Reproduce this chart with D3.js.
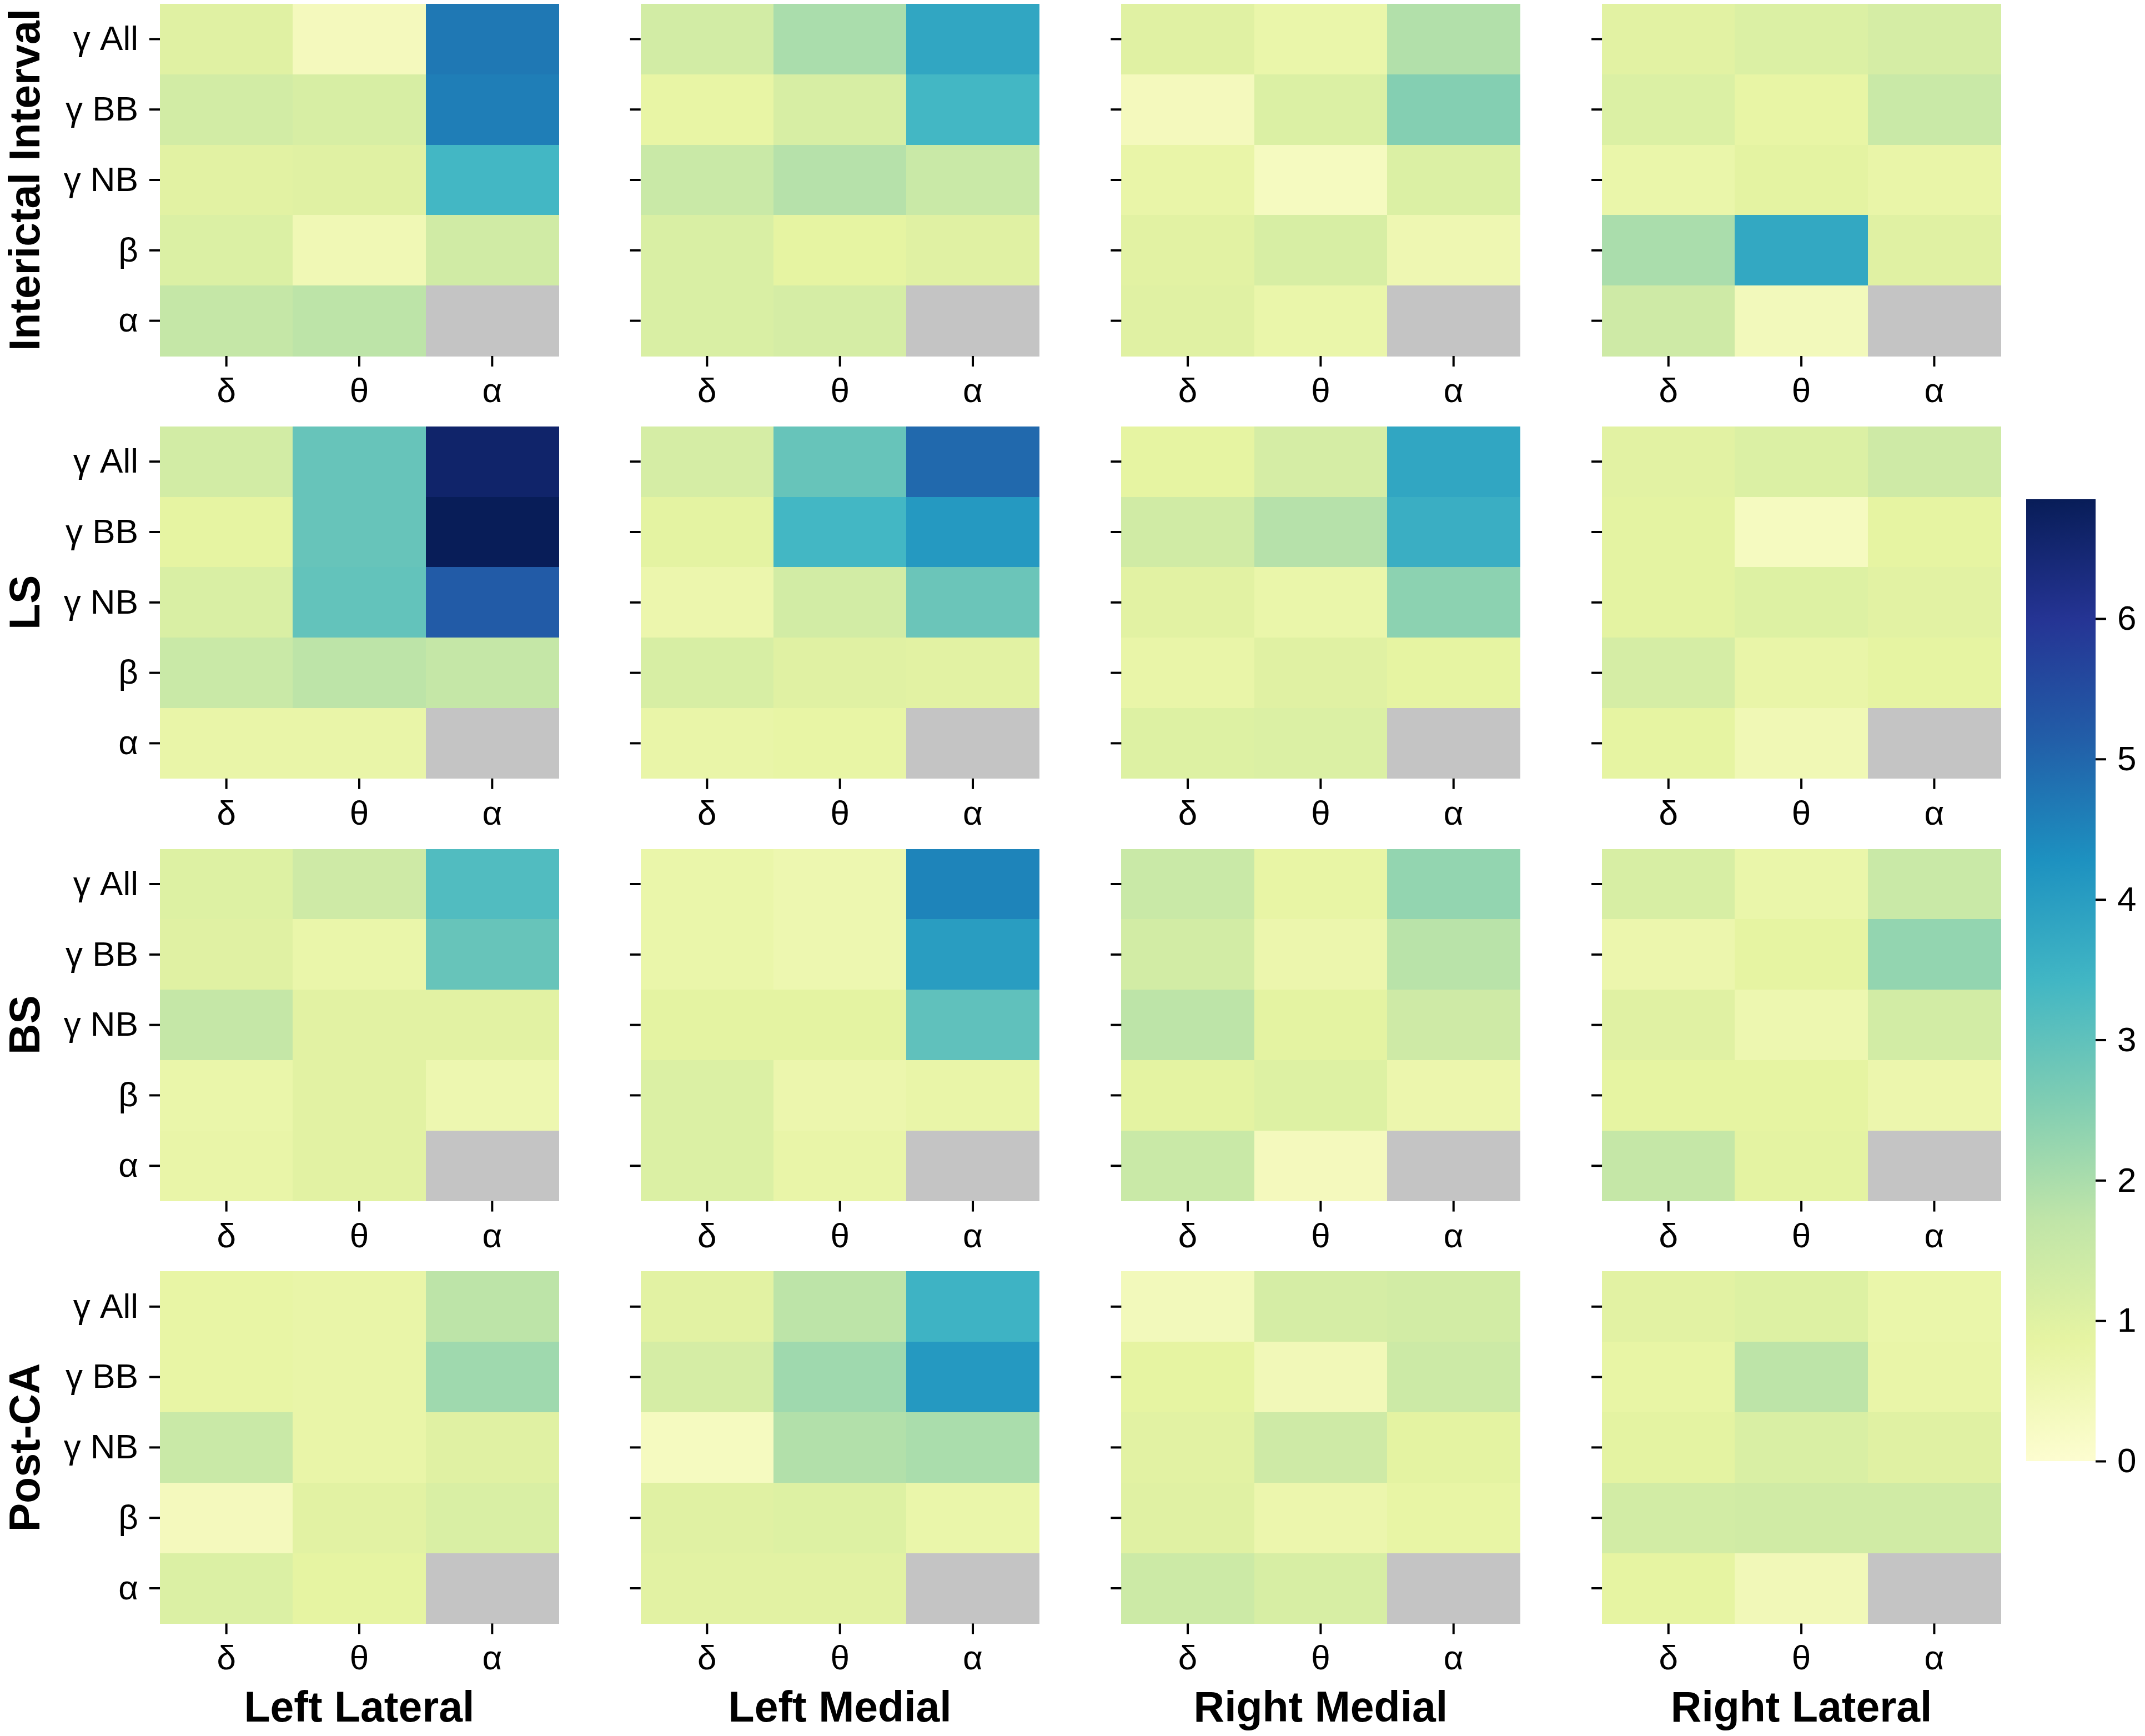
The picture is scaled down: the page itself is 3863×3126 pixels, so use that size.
<!DOCTYPE html>
<html>
<head>
<meta charset="utf-8">
<script src="https://cdn.jsdelivr.net/npm/d3@7"></script>
<style>
  html, body { margin: 0; padding: 0; background: #fff; }
  svg { display: block; }
  text { font-family: "Liberation Sans", Arial, Helvetica, sans-serif; fill: #000; }
</style>
</head>
<body>
<svg id="chart" width="3863" height="3126"></svg>
<script>
// ---------------- data ----------------
const intervals = ["Interictal Interval", "LS", "BS", "Post-CA"];
const regions = ["Left Lateral", "Left Medial", "Right Medial", "Right Lateral"];
const rowBands = ["γ All", "γ BB", "γ NB", "β", "α"];   // amplitude bands (rows)
const colBands = ["δ", "θ", "α"];                        // phase bands (columns)
const colorbarTicks = [0, 1, 2, 3, 4, 5, 6];
const vmin = 0, vmax = 6.85;

// values[region] = 5 rows x 3 cols, null = missing
const interictalValues = [
  [[1.0, 0.35, 4.7], [1.3, 1.2, 4.6], [0.95, 1.0, 3.4], [1.1, 0.5, 1.35], [1.6, 1.75, null]],
  [[1.3, 2.0, 3.8], [0.8, 1.2, 3.4], [1.5, 1.85, 1.5], [1.15, 0.85, 1.0], [1.15, 1.25, null]],
  [[1.0, 0.7, 1.9], [0.35, 1.1, 2.5], [0.75, 0.3, 1.1], [0.95, 1.2, 0.55], [1.0, 0.7, null]],
  [[0.95, 1.1, 1.25], [1.1, 0.8, 1.5], [0.7, 0.9, 0.75], [2.0, 3.75, 1.0], [1.4, 0.4, null]]
];
const lsValues = [
  [[1.3, 2.9, 6.6], [0.85, 2.9, 6.85], [1.15, 2.95, 5.2], [1.5, 1.75, 1.6], [0.75, 0.75, null]],
  [[1.25, 2.9, 4.95], [0.9, 3.4, 4.1], [0.65, 1.3, 2.85], [1.2, 1.0, 0.95], [0.75, 0.8, null]],
  [[0.85, 1.25, 3.8], [1.35, 1.85, 3.6], [0.95, 0.7, 2.4], [0.75, 1.0, 0.85], [1.05, 1.1, null]],
  [[0.95, 1.1, 1.4], [0.9, 0.3, 0.85], [0.9, 1.05, 0.95], [1.25, 0.75, 0.85], [0.85, 0.5, null]]
];
const bsValues = [
  [[1.05, 1.4, 3.2], [1.0, 0.7, 2.9], [1.6, 0.95, 0.95], [0.7, 0.95, 0.6], [0.75, 0.95, null]],
  [[0.7, 0.6, 4.5], [0.7, 0.6, 4.0], [0.9, 0.9, 3.0], [1.1, 0.65, 0.75], [1.1, 0.75, null]],
  [[1.5, 0.8, 2.3], [1.3, 0.65, 1.8], [1.75, 0.9, 1.4], [0.9, 1.05, 0.65], [1.5, 0.35, null]],
  [[1.2, 0.7, 1.5], [0.65, 0.85, 2.3], [1.0, 0.6, 1.3], [0.85, 0.85, 0.65], [1.6, 0.9, null]]
];
const postCAValues = [
  [[0.8, 0.75, 1.75], [0.8, 0.75, 2.15], [1.5, 0.75, 1.0], [0.35, 0.95, 1.15], [1.1, 0.85, null]],
  [[0.95, 1.75, 3.5], [1.25, 2.15, 4.1], [0.3, 1.9, 2.0], [1.0, 1.05, 0.7], [0.95, 0.95, null]],
  [[0.4, 1.25, 1.3], [0.85, 0.45, 1.45], [0.95, 1.4, 0.9], [1.0, 0.65, 0.8], [1.45, 1.2, null]],
  [[0.95, 1.05, 0.7], [0.8, 1.75, 0.75], [0.9, 1.15, 1.0], [1.3, 1.35, 1.35], [0.85, 0.45, null]]
];
const allValues = [interictalValues, lsValues, bsValues, postCAValues];

// YlGnBu-like colour stops (as they appear in the reference rendering)
const ylgnbu = ["#fdfdd0","#e6f4a2","#c0e5a8","#7fcdb3","#41b6c4","#1d91c0","#225ea8","#253494","#081d58"];
const missingColor = "#c4c4c4";

// ---------------- layout ----------------
const svg = d3.select("#chart");
const panelW = 718, panelH = 634;
const colX = d3.scaleLinear().domain([0, 3]).range([288, 288 + 3 * 865.7]);
const rowY = d3.scaleLinear().domain([0, 3]).range([7, 7 + 3 * 760.8]);
const tickFont = 62, titleFont = 77;

const color = d3.scaleLinear()
  .domain(ylgnbu.map((_, i) => vmin + (vmax - vmin) * i / (ylgnbu.length - 1)))
  .range(ylgnbu)
  .interpolate(d3.interpolateRgb)
  .clamp(true);

const x = d3.scaleBand().domain(colBands).range([0, panelW]).padding(0);
const y = d3.scaleBand().domain(rowBands).range([0, panelH]).padding(0);

function styleAxis(g) {
  g.select(".domain").remove();
  g.selectAll(".tick line").attr("stroke", "#000").attr("stroke-width", 4);
  g.selectAll(".tick text").attr("font-size", tickFont).attr("fill", "#000")
    .style("font-family", "'Liberation Sans', Arial, Helvetica, sans-serif");
}

intervals.forEach((interval, ri) => {
  regions.forEach((region, ci) => {
    const vals = allValues[ri][ci];
    const cells = [];
    rowBands.forEach((rb, r) => colBands.forEach((cb, c) => cells.push({ rb, cb, v: vals[r][c] })));
    const g = svg.append("g").attr("transform", `translate(${colX(ci)},${rowY(ri)})`);
    g.selectAll("rect").data(cells).join("rect")
      .attr("x", d => x(d.cb))
      .attr("y", d => y(d.rb))
      .attr("width", x.bandwidth() + 0.5)
      .attr("height", y.bandwidth() + 0.5)
      .attr("fill", d => d.v == null ? missingColor : color(d.v))
      .attr("shape-rendering", "crispEdges");

    const xa = g.append("g").attr("transform", `translate(0,${panelH})`)
      .call(d3.axisBottom(x).tickSize(19).tickPadding(20));
    styleAxis(xa);

    const ya = g.append("g")
      .call(d3.axisLeft(y).tickSize(19).tickPadding(20)
        .tickFormat(ci === 0 ? (d => d) : () => ""));
    styleAxis(ya);
  });

  // row (interval) title
  const cy = rowY(ri) + panelH / 2;
  svg.append("text")
    .attr("transform", `translate(71,${cy}) rotate(-90)`)
    .attr("text-anchor", "middle")
    .attr("font-size", titleFont)
    .attr("font-weight", "bold")
    .text(interval);
});

// column (region) titles
regions.forEach((region, ci) => {
  svg.append("text")
    .attr("x", colX(ci) + panelW / 2)
    .attr("y", 3100)
    .attr("text-anchor", "middle")
    .attr("font-size", titleFont)
    .attr("font-weight", "bold")
    .text(region);
});

// ---------------- colorbar ----------------
const cbX = 3649, cbW = 125, cbTop = 899, cbBottom = 2631;
const cbScale = d3.scaleLinear().domain([vmin, vmax]).range([cbBottom, cbTop]);
const defs = svg.append("defs");
const grad = defs.append("linearGradient").attr("id", "cbgrad")
  .attr("x1", 0).attr("y1", 1).attr("x2", 0).attr("y2", 0);
ylgnbu.forEach((c, i) => {
  grad.append("stop").attr("offset", i / (ylgnbu.length - 1)).attr("stop-color", c);
});
svg.append("rect")
  .attr("x", cbX).attr("y", cbTop)
  .attr("width", cbW).attr("height", cbBottom - cbTop)
  .attr("fill", "url(#cbgrad)");
const cba = svg.append("g").attr("transform", `translate(${cbX + cbW},0)`)
  .call(d3.axisRight(cbScale).tickValues(colorbarTicks).tickFormat(d3.format("d"))
    .tickSize(19).tickPadding(20));
styleAxis(cba);
</script>
</body>
</html>
